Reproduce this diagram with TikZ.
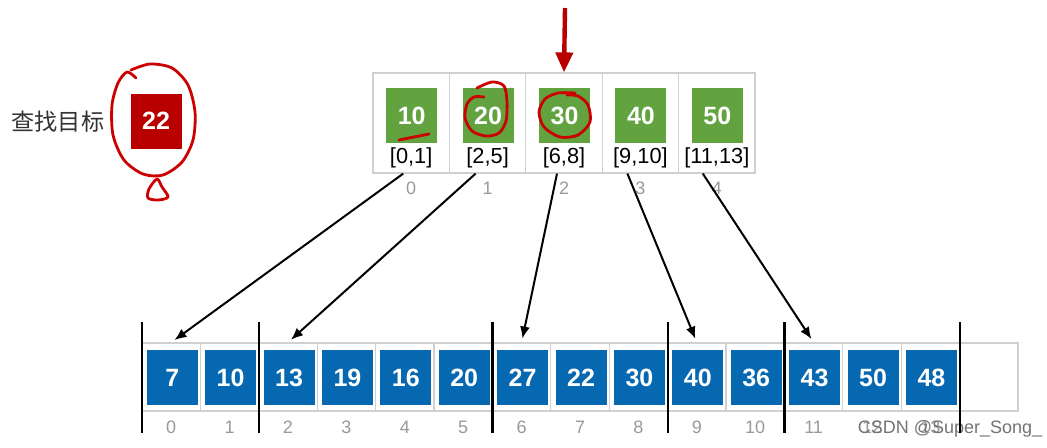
\documentclass[tikz,border=0pt]{standalone}
\usepackage{fontspec}
\setmainfont{Liberation Sans}
\newfontfamily\cjk{Noto Sans CJK SC}
\usetikzlibrary{arrows.meta}
\definecolor{boxgreen}{HTML}{62A33F}
\definecolor{boxblue}{HTML}{0668B0}
\definecolor{boxred}{HTML}{B80000}
\definecolor{pen}{HTML}{CC0000}
\definecolor{frame}{HTML}{D0D0D0}
\begin{document}
\begin{tikzpicture}[x=0.5pt,y=-0.5pt,
		topcell/.style={draw=frame, line width=0.6pt, minimum width=38.2pt, minimum height=50pt, inner sep=0pt},
		cell/.style={draw=frame, line width=0.6pt, minimum width=29.2pt, minimum height=34pt, inner sep=0pt},
		sq/.style={minimum width=25.5pt, minimum height=27.5pt, inner sep=0pt, text=white, font=\fontsize{12.5}{13}\selectfont\bfseries},
		rng/.style={font=\fontsize{10.9}{11}\selectfont, inner sep=0pt},
		idx/.style={font=\fontsize{9}{10}\selectfont, text=black!40, inner sep=0pt},
		sep/.style={line width=1.1pt},
		penline/.style={draw=pen, line width=1.4pt, line cap=round, line join=round},
		>={Latex[length=6pt,width=5pt]}]
	\useasboundingbox (0,0) rectangle (1047,447);
			\node	(goal) at (58,122) [font=\cjk\fontsize{11.6}{12}\selectfont, text=black!80] {查找目标};
			\node	(tgt) at (156,121) [sq, fill=boxred] {22};

			\node	(t0) at (411.2,123) [topcell] {};
			\node	(t1) at (487.6,123) [topcell] {};
			\node	(t2) at (564,123) [topcell] {};
			\node	(t3) at (640.4,123) [topcell] {};
			\node	(t4) at (716.8,123) [topcell] {};
			\node	(g0) at (411.7,115.5) [sq, fill=boxgreen] {10};
			\node	(g1) at (488.1,115.5) [sq, fill=boxgreen] {20};
			\node	(g2) at (564.5,115.5) [sq, fill=boxgreen] {30};
			\node	(g3) at (640.9,115.5) [sq, fill=boxgreen] {40};
			\node	(g4) at (717.3,115.5) [sq, fill=boxgreen] {50};
			\node	(r0) at (411.2,158) [rng] {[0,1]};
			\node	(r1) at (487.6,158) [rng] {[2,5]};
			\node	(r2) at (564,158) [rng] {[6,8]};
			\node	(r3) at (640.4,158) [rng] {[9,10]};
			\node	(r4) at (716.8,158) [rng] {[11,13]};
			\node	(i0) at (411.2,188) [idx] {0};
			\node	(i1) at (487.6,188) [idx] {1};
			\node	(i2) at (564,188) [idx] {2};
			\node	(i3) at (640.4,188) [idx] {3};
			\node	(i4) at (716.8,188) [idx] {4};

			\node	(b0) at (171.2,377) [cell] {};
			\node	(b1) at (229.6,377) [cell] {};
			\node	(b2) at (288,377) [cell] {};
			\node	(b3) at (346.4,377) [cell] {};
			\node	(b4) at (404.8,377) [cell] {};
			\node	(b5) at (463.2,377) [cell] {};
			\node	(b6) at (521.6,377) [cell] {};
			\node	(b7) at (580,377) [cell] {};
			\node	(b8) at (638.4,377) [cell] {};
			\node	(b9) at (696.8,377) [cell] {};
			\node	(b10) at (755.2,377) [cell] {};
			\node	(b11) at (813.6,377) [cell] {};
			\node	(b12) at (872,377) [cell] {};
			\node	(b13) at (930.4,377) [cell] {};
			\node	(b14) at (988.8,377) [cell] {};
			\node	(s0) at (172.2,377.5) [sq, fill=boxblue] {7};
			\node	(s1) at (230.6,377.5) [sq, fill=boxblue] {10};
			\node	(s2) at (289,377.5) [sq, fill=boxblue] {13};
			\node	(s3) at (347.4,377.5) [sq, fill=boxblue] {19};
			\node	(s4) at (405.8,377.5) [sq, fill=boxblue] {16};
			\node	(s5) at (464.2,377.5) [sq, fill=boxblue] {20};
			\node	(s6) at (522.6,377.5) [sq, fill=boxblue] {27};
			\node	(s7) at (581,377.5) [sq, fill=boxblue] {22};
			\node	(s8) at (639.4,377.5) [sq, fill=boxblue] {30};
			\node	(s9) at (697.8,377.5) [sq, fill=boxblue] {40};
			\node	(s10) at (756.2,377.5) [sq, fill=boxblue] {36};
			\node	(s11) at (814.6,377.5) [sq, fill=boxblue] {43};
			\node	(s12) at (873,377.5) [sq, fill=boxblue] {50};
			\node	(s13) at (931.4,377.5) [sq, fill=boxblue] {48};
			\node	(n0) at (171.2,427) [idx] {0};
			\node	(n1) at (229.6,427) [idx] {1};
			\node	(n2) at (288,427) [idx] {2};
			\node	(n3) at (346.4,427) [idx] {3};
			\node	(n4) at (404.8,427) [idx] {4};
			\node	(n5) at (463.2,427) [idx] {5};
			\node	(n6) at (521.6,427) [idx] {6};
			\node	(n7) at (580,427) [idx] {7};
			\node	(n8) at (638.4,427) [idx] {8};
			\node	(n9) at (696.8,427) [idx] {9};
			\node	(n10) at (755.2,427) [idx] {10};
			\node	(n11) at (813.6,427) [idx] {11};
			\node	(n12) at (872,427) [idx] {12};
			\node	(n13) at (930.4,427) [idx] {13};
			\node	(wm) at (950,429) [font=\fontsize{9}{10}\selectfont, text=black!55, inner sep=0pt] {CSDN @Super\_Song\_};

			\draw[sep] (142,322) -- (142,433);
			\draw[sep] (258.8,322) -- (258.8,433);
			\draw[sep] (492.4,322) -- (492.4,433);
			\draw[sep] (667.6,322) -- (667.6,433);
			\draw[sep] (784.4,322) -- (784.4,433);
			\draw[sep] (959.6,322) -- (959.6,433);

			\coordinate (ptr) at (565,8);
			\draw[draw=boxred, line width=2.2pt, -{Triangle[length=10pt,width=8.5pt]}] (ptr) -- (t2.north);

			\draw[line width=1pt, shorten >=2pt]
			([xshift=-4pt]t0.south) edge[->] (b0.north)
			([xshift=-6pt]t1.south) edge[->] (b2.north)
			([xshift=-3.5pt]t2.south) edge[->] (b6.north)
			([xshift=-6.5pt]t3.south) edge[->] (b9.north)
			([xshift=-7pt]t4.south) edge[->] (b11.north)
			;

			\draw[penline] plot[smooth] coordinates {(131,70) (150,64) (172,68) (188,85) (195,112) (193,140) (182,162) (163,175) (143,174) (124,160) (113,135) (112,105) (118,83) (127,72) (136,78)};
			\draw[penline] plot[smooth cycle] coordinates {(157,179) (149,189) (148,198) (158,200) (168,197) (162,187)};
			\draw[penline] plot[smooth] coordinates {(399,140) (414,137) (429,134)};
			\draw[penline] plot[smooth] coordinates {(477,88) (492,82) (504,86) (507,102) (506,121) (499,133) (486,136) (472,131) (465,118) (467,104) (474,97) (484,97)};
			\draw[penline] plot[smooth] coordinates {(575,93) (558,93) (545,99) (539,112) (544,127) (560,137) (578,135) (590,122) (588,105) (578,96) (567,95)};
		\end{tikzpicture}
\end{document}
